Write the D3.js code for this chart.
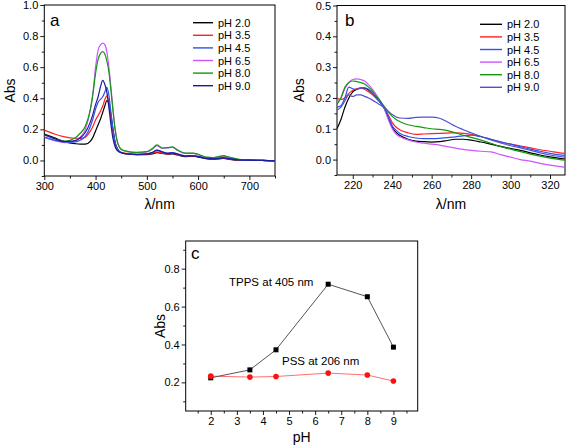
<!DOCTYPE html>
<html><head><meta charset="utf-8">
<script src="https://cdn.jsdelivr.net/npm/d3@7"></script>
<style>
body{margin:0;background:#fff;}
svg{display:block;font-family:"Liberation Sans",Arial,sans-serif;}
</style></head>
<body>
<svg id="chart" width="567" height="447"></svg>
<script>
// ---------- DATA ----------
const seriesNames = ["pH 2.0","pH 3.5","pH 4.5","pH 6.5","pH 8.0","pH 9.0"];
const seriesColors = ["#000000","#ff2020","#3050f0","#cc55ff","#119911","#1a1a9a"];
const seriesColorsB = ["#000000","#ff2020","#3050f0","#cc55ff","#119911","#5050d0"];

// Panel a: wavelength grid (nm)
const wlA = [300,320,340,360,370,380,390,395,400,405,410,414,418,422,426,430,434,438,442,446,450,460,480,500,510,520,530,540,550,560,575,590,600,615,630,640,650,660,680,700,725,750];
const absA_pH20 = [0.17,0.145,0.12,0.108,0.105,0.105,0.125,0.15,0.19,0.23,0.27,0.31,0.35,0.385,0.37,0.29,0.2,0.12,0.08,0.06,0.05,0.042,0.037,0.038,0.042,0.05,0.045,0.04,0.042,0.035,0.025,0.027,0.022,0.012,0.008,0.01,0.013,0.008,0.002,0.002,0.0,-0.003];
const absA_pH35 = [0.195,0.17,0.152,0.143,0.142,0.15,0.19,0.22,0.26,0.29,0.32,0.35,0.39,0.415,0.37,0.27,0.18,0.11,0.075,0.06,0.053,0.045,0.04,0.04,0.045,0.055,0.047,0.042,0.045,0.037,0.027,0.03,0.025,0.013,0.01,0.012,0.015,0.01,0.003,0.002,0.0,-0.003];
const absA_pH45 = [0.15,0.13,0.118,0.12,0.13,0.155,0.22,0.27,0.33,0.375,0.395,0.41,0.44,0.47,0.42,0.31,0.2,0.115,0.075,0.058,0.05,0.043,0.04,0.043,0.05,0.065,0.055,0.047,0.05,0.042,0.03,0.032,0.027,0.015,0.012,0.015,0.019,0.013,0.004,0.002,0.0,-0.003];
const absA_pH65 = [0.15,0.128,0.115,0.125,0.15,0.2,0.33,0.44,0.6,0.71,0.745,0.755,0.745,0.70,0.6,0.47,0.33,0.21,0.13,0.09,0.07,0.058,0.05,0.055,0.07,0.095,0.078,0.08,0.085,0.065,0.045,0.045,0.038,0.02,0.017,0.022,0.028,0.02,0.006,0.004,0.0,-0.004];
const absA_pH80 = [0.165,0.14,0.125,0.145,0.175,0.22,0.33,0.43,0.56,0.65,0.69,0.70,0.685,0.64,0.57,0.45,0.32,0.2,0.125,0.088,0.072,0.06,0.052,0.057,0.075,0.1,0.08,0.082,0.087,0.067,0.047,0.047,0.04,0.022,0.019,0.025,0.031,0.022,0.007,0.004,0.0,-0.004];
const absA_pH90 = [0.165,0.14,0.122,0.128,0.145,0.18,0.25,0.3,0.36,0.41,0.48,0.515,0.49,0.44,0.34,0.23,0.14,0.09,0.065,0.055,0.05,0.043,0.038,0.042,0.05,0.066,0.055,0.046,0.049,0.04,0.028,0.03,0.025,0.013,0.01,0.013,0.017,0.011,0.003,0.002,0.0,-0.003];

// Panel b
const wlB = [212,214,216,218,220,222,224,226,228,230,232,234,236,238,240,242,244,248,252,256,260,264,268,272,276,280,285,290,295,300,305,310,315,320,325,327.5];
const absB_pH20 = [0.10,0.13,0.17,0.20,0.22,0.228,0.232,0.232,0.226,0.215,0.2,0.185,0.165,0.135,0.105,0.088,0.078,0.066,0.06,0.058,0.057,0.058,0.062,0.066,0.066,0.063,0.057,0.05,0.043,0.036,0.03,0.022,0.015,0.009,0.004,0.002];
const absB_pH35 = [0.2,0.195,0.2,0.215,0.225,0.23,0.232,0.228,0.22,0.21,0.198,0.185,0.17,0.145,0.12,0.105,0.096,0.087,0.082,0.083,0.084,0.085,0.086,0.087,0.085,0.082,0.075,0.066,0.057,0.05,0.044,0.038,0.032,0.027,0.022,0.02];
const absB_pH45 = [0.17,0.175,0.2,0.235,0.23,0.228,0.232,0.233,0.228,0.215,0.2,0.185,0.168,0.14,0.11,0.095,0.085,0.075,0.07,0.068,0.068,0.069,0.071,0.074,0.077,0.079,0.074,0.066,0.058,0.05,0.042,0.034,0.027,0.02,0.015,0.014];
const absB_pH65 = [0.185,0.2,0.23,0.25,0.26,0.262,0.26,0.255,0.243,0.228,0.21,0.19,0.165,0.13,0.1,0.083,0.074,0.064,0.057,0.053,0.05,0.047,0.042,0.037,0.033,0.03,0.027,0.025,0.016,0.008,0.0,-0.005,-0.012,-0.018,-0.023,-0.025];
const absB_pH80 = [0.18,0.2,0.235,0.25,0.255,0.253,0.25,0.245,0.235,0.222,0.205,0.19,0.172,0.155,0.14,0.13,0.123,0.113,0.108,0.104,0.1,0.098,0.094,0.087,0.079,0.072,0.063,0.053,0.042,0.034,0.026,0.018,0.011,0.005,0.0,-0.002];
const absB_pH90 = [0.16,0.17,0.19,0.21,0.205,0.21,0.21,0.205,0.2,0.193,0.185,0.177,0.168,0.157,0.146,0.138,0.135,0.134,0.137,0.138,0.138,0.134,0.122,0.108,0.097,0.087,0.075,0.064,0.054,0.045,0.038,0.03,0.022,0.015,0.01,0.008];

// Panel c
const pHc = [2,3.5,4.5,6.5,8,9];
const tpps405 = [0.224,0.266,0.372,0.718,0.652,0.386];
const pss206 = [0.233,0.228,0.231,0.249,0.239,0.207];

// ---------- DRAW ----------
const svg = d3.select("#chart");
const FONT = "Liberation Sans, Arial, sans-serif";

function panel(opts){
  const g = svg.append("g");
  const x = d3.scaleLinear().domain(opts.xd).range(opts.xr);
  const y = d3.scaleLinear().domain(opts.yd).range(opts.yr);
  const cid = "clip" + opts.id;
  svg.append("clipPath").attr("id", cid).append("rect")
    .attr("x", opts.xr[0]).attr("y", opts.yr[1])
    .attr("width", opts.xr[1]-opts.xr[0]).attr("height", opts.yr[0]-opts.yr[1]);
  const xAxis = d3.axisBottom(x).tickValues(opts.xMajor).tickSize(4).tickSizeOuter(0).tickPadding(2)
      .tickFormat(opts.xFmt);
  const xMinor = d3.axisBottom(x).tickValues(opts.xMinor).tickSize(2.5).tickSizeOuter(0).tickFormat("");
  const yAxis = d3.axisLeft(y).tickValues(opts.yMajor).tickSize(4).tickSizeOuter(0).tickPadding(2)
      .tickFormat(opts.yFmt);
  const yMinor = d3.axisLeft(y).tickValues(opts.yMinor).tickSize(2.5).tickSizeOuter(0).tickFormat("");
  [xAxis, xMinor].forEach(a=>{
    const ag = g.append("g").attr("transform",`translate(0,${opts.yr[0]})`).call(a);
    ag.select(".domain").remove();
  });
  [yAxis, yMinor].forEach(a=>{
    const ag = g.append("g").attr("transform",`translate(${opts.xr[0]},0)`).call(a);
    ag.select(".domain").remove();
  });
  g.selectAll(".tick text").attr("font-size", 11).attr("font-family", FONT).attr("fill","#000");
  g.selectAll(".tick line").attr("stroke","#000").attr("stroke-width",0.9);
  g.append("rect").attr("x",opts.xr[0]).attr("y",opts.yr[1])
    .attr("width",opts.xr[1]-opts.xr[0]).attr("height",opts.yr[0]-opts.yr[1])
    .attr("fill","none").attr("stroke","#000").attr("stroke-width",1);
  g.append("text").attr("transform",`translate(${opts.ylabX},${(opts.yr[0]+opts.yr[1])/2}) rotate(-90)`)
    .attr("text-anchor","middle").attr("font-size",14).attr("font-family",FONT).text("Abs");
  g.append("text").attr("x",(opts.xr[0]+opts.xr[1])/2).attr("y",opts.xlabY)
    .attr("text-anchor","middle").attr("font-size",14).attr("font-family",FONT).text(opts.xlab);
  g.append("text").attr("x",opts.letter[0]).attr("y",opts.letter[1])
    .attr("font-size",17).attr("font-family",FONT).text(opts.letter[2]);
  return {g,x,y,cid};
}

// Panel a
const pa = panel({id:"a", xd:[300,750], xr:[44.3,275], yd:[-0.1,1.0], yr:[176,5],
  xMajor:[300,400,500,600,700], xMinor:[350,450,550,650,750], xFmt:d3.format("d"),
  yMajor:[0,0.2,0.4,0.6,0.8,1.0], yMinor:[-0.1,0.1,0.3,0.5,0.7,0.9], yFmt:d3.format(".1f"),
  ylabX:15, xlabY:209, xlab:"λ/nm", letter:[50,26,"a"]});
const seriesA = [absA_pH20,absA_pH35,absA_pH45,absA_pH65,absA_pH80,absA_pH90];
const lineA = d3.line().curve(d3.curveMonotoneX).x((d,i)=>pa.x(wlA[i])).y(d=>pa.y(d));
[0,1,3,4,2,5].forEach(k=>{
  pa.g.append("path").attr("d",lineA(seriesA[k])).attr("fill","none")
    .attr("stroke",seriesColors[k]).attr("stroke-width",1.2).attr("clip-path",`url(#${pa.cid})`);
});
seriesNames.forEach((n,i)=>{
  const yy = 22.7 + i*12.6;
  pa.g.append("line").attr("x1",193).attr("x2",213).attr("y1",yy).attr("y2",yy)
    .attr("stroke",seriesColors[i]).attr("stroke-width",1.4);
  pa.g.append("text").attr("x",218).attr("y",yy+4).attr("font-size",11).attr("font-family",FONT).text(n);
});

// Panel b
const pb = panel({id:"b", xd:[212,327.6], xr:[337,565], yd:[-0.05,0.5], yr:[175,5.5],
  xMajor:[220,240,260,280,300,320], xMinor:[230,250,270,290,310], xFmt:d3.format("d"),
  yMajor:[0,0.1,0.2,0.3,0.4,0.5], yMinor:[-0.05,0.05,0.15,0.25,0.35,0.45], yFmt:d3.format(".1f"),
  ylabX:304, xlabY:209, xlab:"λ/nm", letter:[345,26,"b"]});
const seriesB = [absB_pH20,absB_pH35,absB_pH45,absB_pH65,absB_pH80,absB_pH90];
const lineB = d3.line().curve(d3.curveMonotoneX).x((d,i)=>pb.x(wlB[i])).y(d=>pb.y(d));
[0,1,3,4,2,5].forEach(k=>{
  pb.g.append("path").attr("d",lineB(seriesB[k])).attr("fill","none")
    .attr("stroke",seriesColorsB[k]).attr("stroke-width",1.2).attr("clip-path",`url(#${pb.cid})`);
});
seriesNames.forEach((n,i)=>{
  const yy = 24.3 + i*12.6;
  pb.g.append("line").attr("x1",480).attr("x2",502).attr("y1",yy).attr("y2",yy)
    .attr("stroke",seriesColorsB[i]).attr("stroke-width",1.4);
  pb.g.append("text").attr("x",507).attr("y",yy+4).attr("font-size",11).attr("font-family",FONT).text(n);
});

// Panel c
const pc = panel({id:"c", xd:[1.04,9.93], xr:[185.7,417.7], yd:[0.049,0.946], yr:[411,241],
  xMajor:[2,3,4,5,6,7,8,9], xMinor:[1.5,2.5,3.5,4.5,5.5,6.5,7.5,8.5,9.5], xFmt:d3.format("d"),
  yMajor:[0.2,0.4,0.6,0.8], yMinor:[0.1,0.3,0.5,0.7,0.9], yFmt:d3.format(".1f"),
  ylabX:165, xlabY:442, xlab:"pH", letter:[191,259,"c"]});
const lineC = d3.line().x((d,i)=>pc.x(pHc[i])).y(d=>pc.y(d));
pc.g.append("path").attr("d",lineC(pss206)).attr("fill","none").attr("stroke","#ff7070").attr("stroke-width",1);
pc.g.append("path").attr("d",lineC(tpps405)).attr("fill","none").attr("stroke","#555").attr("stroke-width",1);
pc.g.selectAll(".sq").data(tpps405).enter().append("rect")
  .attr("x",(d,i)=>pc.x(pHc[i])-2.5).attr("y",d=>pc.y(d)-2.5).attr("width",5).attr("height",5).attr("fill","#000");
pc.g.selectAll(".ci").data(pss206).enter().append("circle")
  .attr("cx",(d,i)=>pc.x(pHc[i])).attr("cy",d=>pc.y(d)).attr("r",2.8).attr("fill","#ff1010");
pc.g.append("text").attr("x",229).attr("y",286).attr("font-size",11.5).attr("font-family",FONT).text("TPPS at 405 nm");
pc.g.append("text").attr("x",282).attr("y",365).attr("font-size",11.5).attr("font-family",FONT).text("PSS at 206 nm");
</script>
</body></html>
